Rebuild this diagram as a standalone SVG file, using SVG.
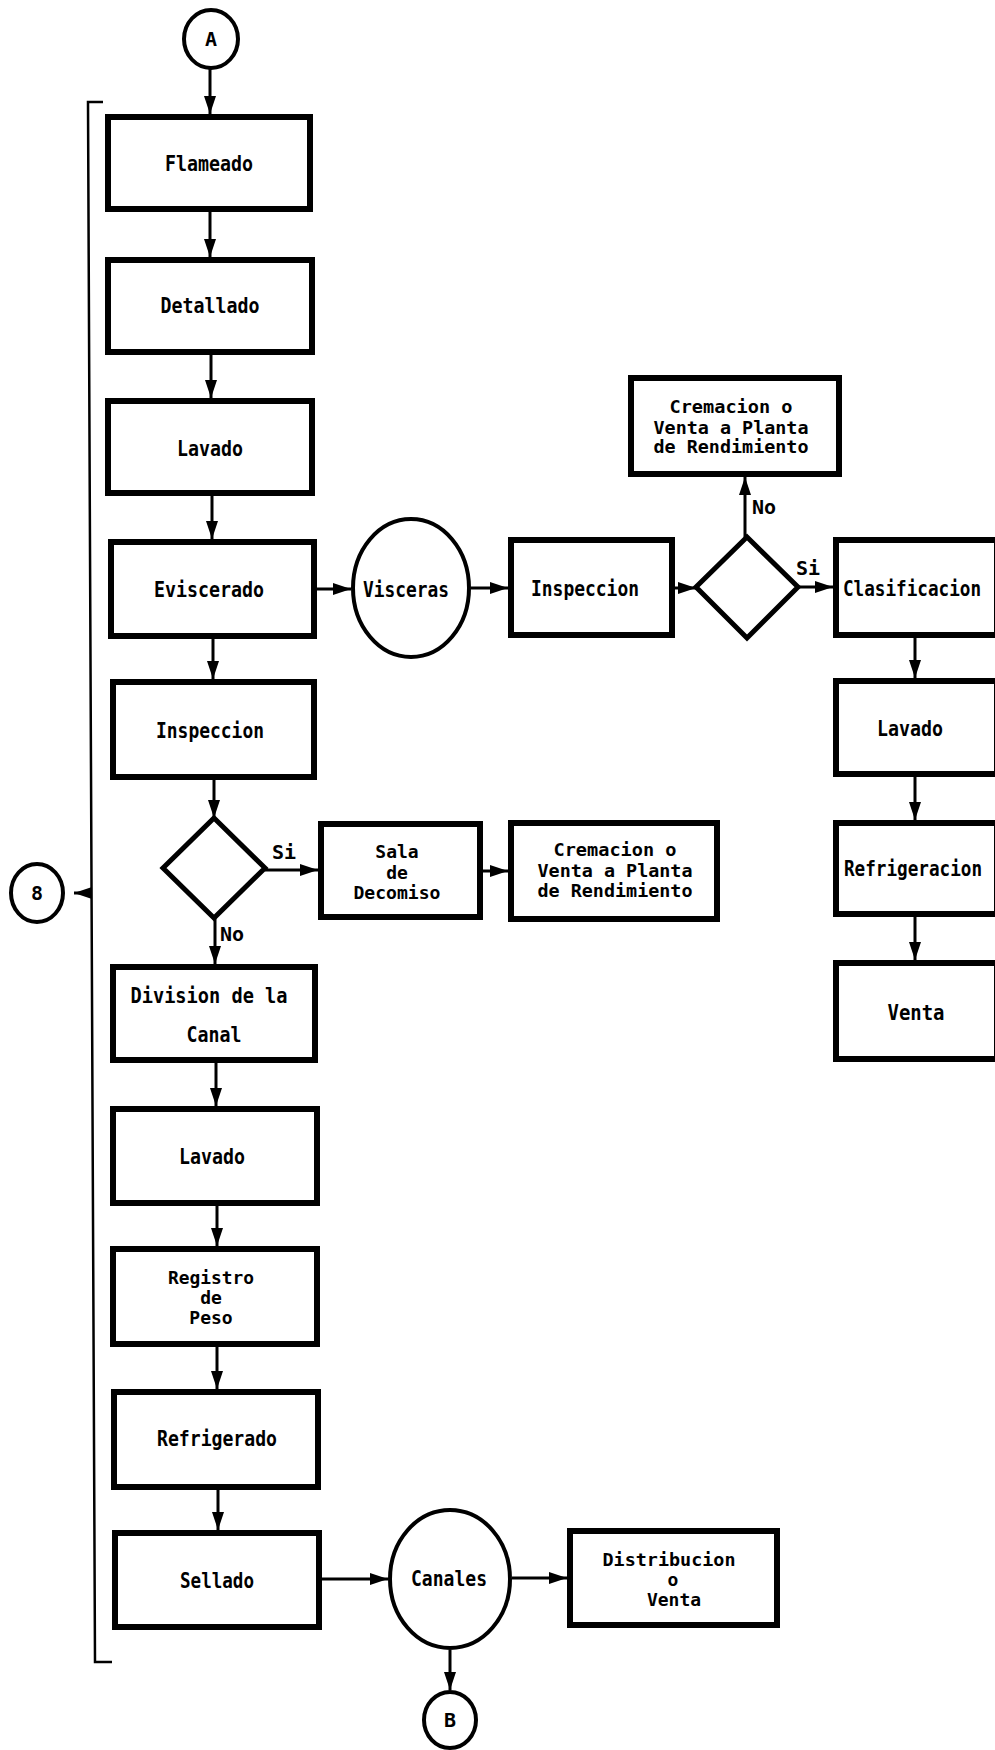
<svg xmlns="http://www.w3.org/2000/svg" width="995" height="1750" viewBox="0 0 995 1750">
<style>
.b{fill:none;stroke:#000;stroke-width:6}
.c{fill:none;stroke:#000;stroke-width:4}
.d{fill:none;stroke:#000;stroke-width:5;stroke-linejoin:miter}
.t{font-family:"DejaVu Sans Mono","Liberation Mono",monospace;font-weight:bold;font-size:22px;text-anchor:middle;fill:#000}
.s{font-family:"DejaVu Sans Mono","Liberation Mono",monospace;font-weight:bold;font-size:18px;text-anchor:middle;fill:#000}
.l{font-family:"DejaVu Sans Mono","Liberation Mono",monospace;font-weight:bold;font-size:20px;text-anchor:middle;fill:#000}
.k line{stroke:#000;stroke-width:3;marker-end:url(#ah)}
</style>
<defs>
<marker id="ah" markerUnits="userSpaceOnUse" markerWidth="20" markerHeight="14" refX="18" refY="7" orient="auto"><path d="M0,1 L18,7 L0,13 Z" fill="#000"/></marker>
</defs>
<rect width="995" height="1750" fill="#fff"/>
<path d="M103,102 L88,102 L95,1662 L112,1662" fill="none" stroke="#000" stroke-width="2.5"/>
<g class="k" id="connectors">
<line x1="210" y1="69" x2="210" y2="114"/>
<line x1="210" y1="212" x2="210" y2="257"/>
<line x1="211" y1="355" x2="211" y2="398"/>
<line x1="212" y1="496" x2="212" y2="539"/>
<line x1="213" y1="639" x2="213" y2="679"/>
<line x1="214" y1="780" x2="214" y2="818"/>
<line x1="215" y1="918" x2="215" y2="964"/>
<line x1="216" y1="1063" x2="216" y2="1106"/>
<line x1="217" y1="1206" x2="217" y2="1246"/>
<line x1="217" y1="1347" x2="217" y2="1389"/>
<line x1="218" y1="1490" x2="218" y2="1530"/>
<line x1="322" y1="1579" x2="388" y2="1579"/>
<line x1="512" y1="1578" x2="567" y2="1578"/>
<line x1="450" y1="1650" x2="450" y2="1690"/>
<line x1="265" y1="870" x2="318" y2="870"/>
<line x1="483" y1="871" x2="508" y2="871"/>
<line x1="317" y1="589" x2="351" y2="589"/>
<line x1="471" y1="588" x2="508" y2="588"/>
<line x1="675" y1="588" x2="696" y2="588"/>
<line x1="745" y1="537" x2="745" y2="477"/>
<line x1="798" y1="587" x2="833" y2="587"/>
<line x1="915" y1="638" x2="915" y2="678"/>
<line x1="915" y1="777" x2="915" y2="820"/>
<line x1="915" y1="917" x2="915" y2="960"/>
<line x1="90" y1="893" x2="74" y2="893"/>
</g>
<g id="A"><ellipse class="c" cx="211" cy="39" rx="27" ry="29"/><text class="l" x="211" y="46">A</text></g>
<g id="n8"><ellipse class="c" cx="37" cy="893" rx="26" ry="29"/><text class="l" x="37" y="900">8</text></g>
<g id="B"><ellipse class="c" cx="450" cy="1720" rx="26" ry="28"/><text class="l" x="450" y="1727">B</text></g>
<g id="flameado"><rect class="b" x="108" y="117" width="202" height="92"/><text class="t" x="209" y="171" textLength="88" lengthAdjust="spacingAndGlyphs">Flameado</text></g>
<g id="detallado"><rect class="b" x="108" y="260" width="204" height="92"/><text class="t" x="210" y="313" textLength="99" lengthAdjust="spacingAndGlyphs">Detallado</text></g>
<g id="lavado1"><rect class="b" x="108" y="401" width="204" height="92"/><text class="t" x="210" y="456" textLength="66" lengthAdjust="spacingAndGlyphs">Lavado</text></g>
<g id="eviscerado"><rect class="b" x="111" y="542" width="203" height="94"/><text class="t" x="209" y="597" textLength="110" lengthAdjust="spacingAndGlyphs">Eviscerado</text></g>
<g id="inspeccion1"><rect class="b" x="113" y="682" width="201" height="95"/><text class="t" x="210" y="738" textLength="108" lengthAdjust="spacingAndGlyphs">Inspeccion</text></g>
<g id="decision1"><polygon class="d" points="214,818 265,868 214,918 163,868"/></g>
<text class="l" x="284" y="859">Si</text>
<text class="l" x="232" y="941">No</text>
<g id="division"><rect class="b" x="113" y="967" width="202" height="93"/><text class="t" x="209" y="1003" textLength="157" lengthAdjust="spacingAndGlyphs">Division de la</text><text class="t" x="214" y="1042" textLength="55" lengthAdjust="spacingAndGlyphs">Canal</text></g>
<g id="lavado2"><rect class="b" x="113" y="1109" width="204" height="94"/><text class="t" x="212" y="1164" textLength="66" lengthAdjust="spacingAndGlyphs">Lavado</text></g>
<g id="registro"><rect class="b" x="113" y="1249" width="204" height="95"/><text class="s" x="211" y="1284" textLength="86" lengthAdjust="spacingAndGlyphs">Registro</text><text class="s" x="211" y="1304">de</text><text class="s" x="211" y="1324">Peso</text></g>
<g id="refrigerado"><rect class="b" x="114" y="1392" width="204" height="95"/><text class="t" x="217" y="1446" textLength="120" lengthAdjust="spacingAndGlyphs">Refrigerado</text></g>
<g id="sellado"><rect class="b" x="115" y="1533" width="204" height="94"/><text class="t" x="217" y="1588" textLength="74" lengthAdjust="spacingAndGlyphs">Sellado</text></g>
<g id="canales"><ellipse class="c" cx="450" cy="1579" rx="60" ry="69"/><text class="t" x="449" y="1586" textLength="76" lengthAdjust="spacingAndGlyphs">Canales</text></g>
<g id="distribucion"><rect class="b" x="570" y="1531" width="207" height="94"/><text class="s" x="669" y="1566" textLength="133" lengthAdjust="spacingAndGlyphs">Distribucion</text><text class="s" x="673" y="1586">o</text><text class="s" x="674" y="1606">Venta</text></g>
<g id="sala"><rect class="b" x="321" y="824" width="159" height="93"/><text class="s" x="397" y="858">Sala</text><text class="s" x="397" y="879">de</text><text class="s" x="397" y="899" textLength="87" lengthAdjust="spacingAndGlyphs">Decomiso</text></g>
<g id="cremacion2"><rect class="b" x="511" y="823" width="206" height="96"/><text class="s" x="615" y="856" textLength="123" lengthAdjust="spacingAndGlyphs">Cremacion o</text><text class="s" x="615" y="877" textLength="155" lengthAdjust="spacingAndGlyphs">Venta a Planta</text><text class="s" x="615" y="897" textLength="155" lengthAdjust="spacingAndGlyphs">de Rendimiento</text></g>
<g id="visceras"><ellipse class="c" cx="411" cy="588" rx="58" ry="69"/><text class="t" x="406" y="597" textLength="86" lengthAdjust="spacingAndGlyphs">Visceras</text></g>
<g id="inspeccion2"><rect class="b" x="511" y="540" width="161" height="95"/><text class="t" x="585" y="596" textLength="108" lengthAdjust="spacingAndGlyphs">Inspeccion</text></g>
<g id="decision2"><polygon class="d" points="747,537 798,587 747,638 696,587"/></g>
<text class="l" x="764" y="514">No</text>
<text class="l" x="808" y="575">Si</text>
<g id="cremacion1"><rect class="b" x="631" y="378" width="208" height="96"/><text class="s" x="731" y="413" textLength="123" lengthAdjust="spacingAndGlyphs">Cremacion o</text><text class="s" x="731" y="434" textLength="155" lengthAdjust="spacingAndGlyphs">Venta a Planta</text><text class="s" x="731" y="453" textLength="155" lengthAdjust="spacingAndGlyphs">de Rendimiento</text></g>
<g id="clasificacion"><rect class="b" x="836" y="540" width="161" height="95"/><text class="t" x="912" y="596" textLength="138" lengthAdjust="spacingAndGlyphs">Clasificacion</text></g>
<g id="lavado3"><rect class="b" x="836" y="681" width="161" height="93"/><text class="t" x="910" y="736" textLength="66" lengthAdjust="spacingAndGlyphs">Lavado</text></g>
<g id="refrigeracion"><rect class="b" x="836" y="823" width="161" height="91"/><text class="t" x="913" y="876" textLength="138" lengthAdjust="spacingAndGlyphs">Refrigeracion</text></g>
<g id="venta"><rect class="b" x="836" y="963" width="161" height="96"/><text class="t" x="916" y="1020" textLength="57" lengthAdjust="spacingAndGlyphs">Venta</text></g>
</svg>
